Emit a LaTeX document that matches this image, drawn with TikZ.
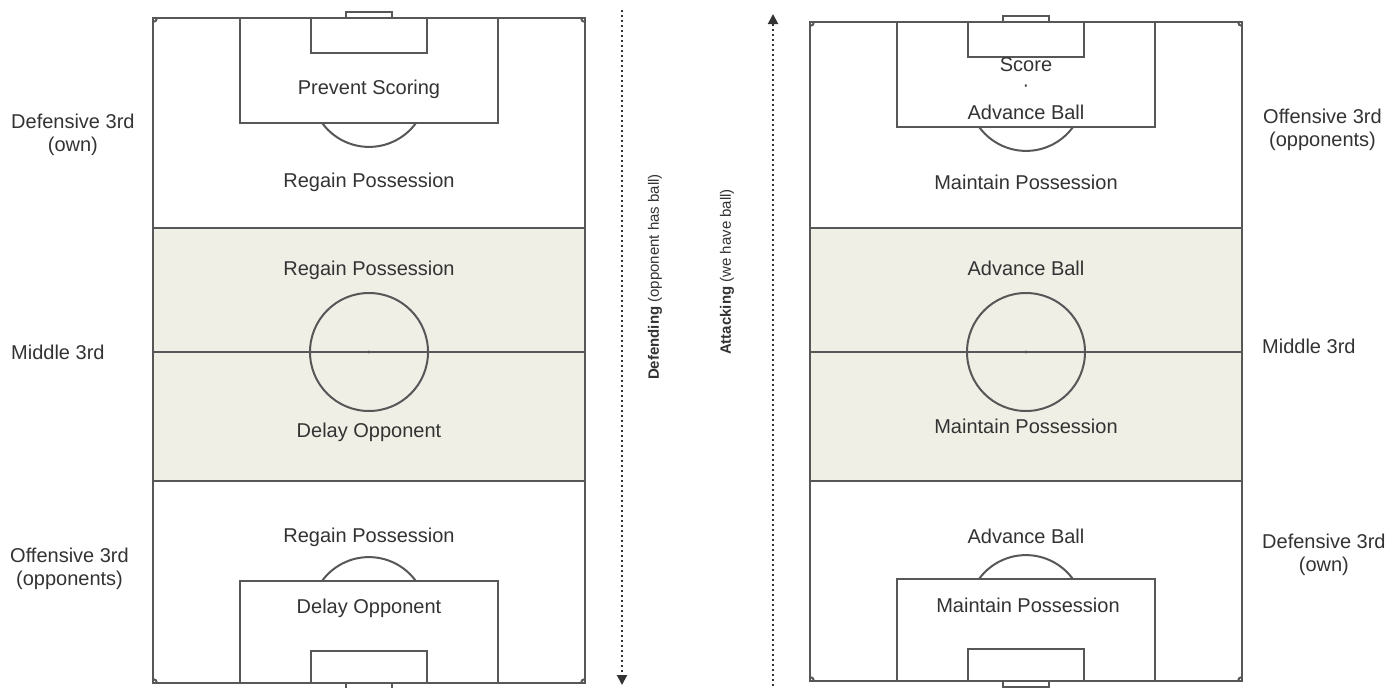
\documentclass[tikz,border=0pt]{standalone}
\usepackage{fontspec}
\setmainfont{Liberation Sans}
\usetikzlibrary{arrows.meta}
\definecolor{pline}{HTML}{575757}
\definecolor{midfill}{HTML}{EFEFE6}
\definecolor{txt}{HTML}{333333}
\newcommand\drawpitch[3]{%
  % #1 left x, #2 top y, #3 bottom y
  \fill[midfill] (#1,228) rectangle ({#1+432},481);
  \draw[pitchline] (#1,228) -- ({#1+432},228);
  \draw[pitchline] (#1,481) -- ({#1+432},481);
  \draw[pitchline] (#1,352) -- ({#1+432},352);
  \draw[pitchline] ({#1+216},352) circle[radius=59];
  \fill[pline] ({#1+216},352) circle[radius=1.6];
  % top end
  \draw[pitchline,fill=white] ({#1+216-129},#2) rectangle ({#1+216+129},{#2+105});
  \draw[pitchline] ({#1+216-58},#2) rectangle ({#1+216+58},{#2+35});
  \draw[pitchline] ({#1+216-23},{#2-6}) rectangle ({#1+216+23},#2);
  \draw[pitchline] ({#1+216+47},{#2+105}) arc[start angle=36,end angle=144,radius=58];
  % bottom end
  \draw[pitchline,fill=white] ({#1+216-129},#3) rectangle ({#1+216+129},{#3-102});
  \draw[pitchline] ({#1+216-58},#3) rectangle ({#1+216+58},{#3-32});
  \draw[pitchline] ({#1+216-23},#3) rectangle ({#1+216+23},{#3+6});
  \draw[pitchline] ({#1+216-47},{#3-102}) arc[start angle=216,end angle=324,radius=58];
  % outline
  \draw[outline] (#1,#2) rectangle ({#1+432},#3);
  \draw[pitchline] ({#1+4},#2) arc[start angle=0,end angle=90,radius=4];
  \draw[pitchline] ({#1+428},#2) arc[start angle=180,end angle=90,radius=4];
  \draw[pitchline] ({#1+4},#3) arc[start angle=0,end angle=-90,radius=4];
  \draw[pitchline] ({#1+428},#3) arc[start angle=180,end angle=270,radius=4];
}
\begin{document}
\begin{tikzpicture}[x=1pt,y=-1pt,
  pitchline/.style={draw=pline,line width=2pt},
  outline/.style={draw=pline,line width=2.6pt},
  lbl/.style={text=txt,font=\fontsize{20}{24}\selectfont,inner sep=0pt},
  side/.style={text=txt,font=\fontsize{20}{23}\selectfont,align=center,inner sep=0pt,anchor=west},
  vlbl/.style={text=txt,font=\fontsize{15}{18}\selectfont,rotate=90,inner sep=0pt},
  dotarrow/.style={draw=txt,line width=2pt,dash pattern=on 2pt off 3pt,-{Triangle[length=10pt,width=10pt]}}]
\useasboundingbox (0,0) rectangle (1398,688);
\fill[white] (0,0) rectangle (1398,688);

\drawpitch{153}{18}{683}
\drawpitch{810}{22}{681}

% left pitch texts
\node[lbl] (l1) at (369,89) {Prevent Scoring};
\node[lbl] (l2) at (369,182) {Regain Possession};
\node[lbl] (l3) at (369,270) {Regain Possession};
\node[lbl] (l4) at (369,432) {Delay Opponent};
\node[lbl] (l5) at (369,537) {Regain Possession};
\node[lbl] (l6) at (369,608) {Delay Opponent};

% right pitch texts
\node[lbl] (r1) at (1026,65) {Score};
\node[lbl] (r1b) at (1026,88) {·};
\node[lbl] (r2) at (1026,112) {Advance Ball};
\node[lbl] (r3) at (1026,182) {Maintain Possession};
\node[lbl] (r4) at (1026,268) {Advance Ball};
\node[lbl] (r5) at (1026,426) {Maintain Possession};
\node[lbl] (r6) at (1026,536) {Advance Ball};
\node[lbl] (r7) at (1028,605) {Maintain Possession};

% side labels
\node[side] (s1) at (11,135) {Defensive 3rd\\(own)};
\node[side] (s2) at (11,352) {Middle 3rd};
\node[side] (s3) at (10,569) {Offensive 3rd\\(opponents)};
\node[side] (s4) at (1263,130) {Offensive 3rd\\(opponents)};
\node[side] (s5) at (1262,346) {Middle 3rd};
\node[side] (s6) at (1262,555) {Defensive 3rd\\(own)};

% direction arrows
\coordinate (da) at (622,10);
\coordinate (db) at (622,685);
\draw[dotarrow] (da) -- (db);
\coordinate (aa) at (773,686);
\coordinate (ab) at (773,14);
\draw[dotarrow] (aa) -- (ab);
\node[vlbl] (vd) at (655,277) {\textbf{Defending} (opponent has ball)};
\node[vlbl] (va) at (727,272) {\textbf{Attacking} (we have ball)};
\end{tikzpicture}
\end{document}
